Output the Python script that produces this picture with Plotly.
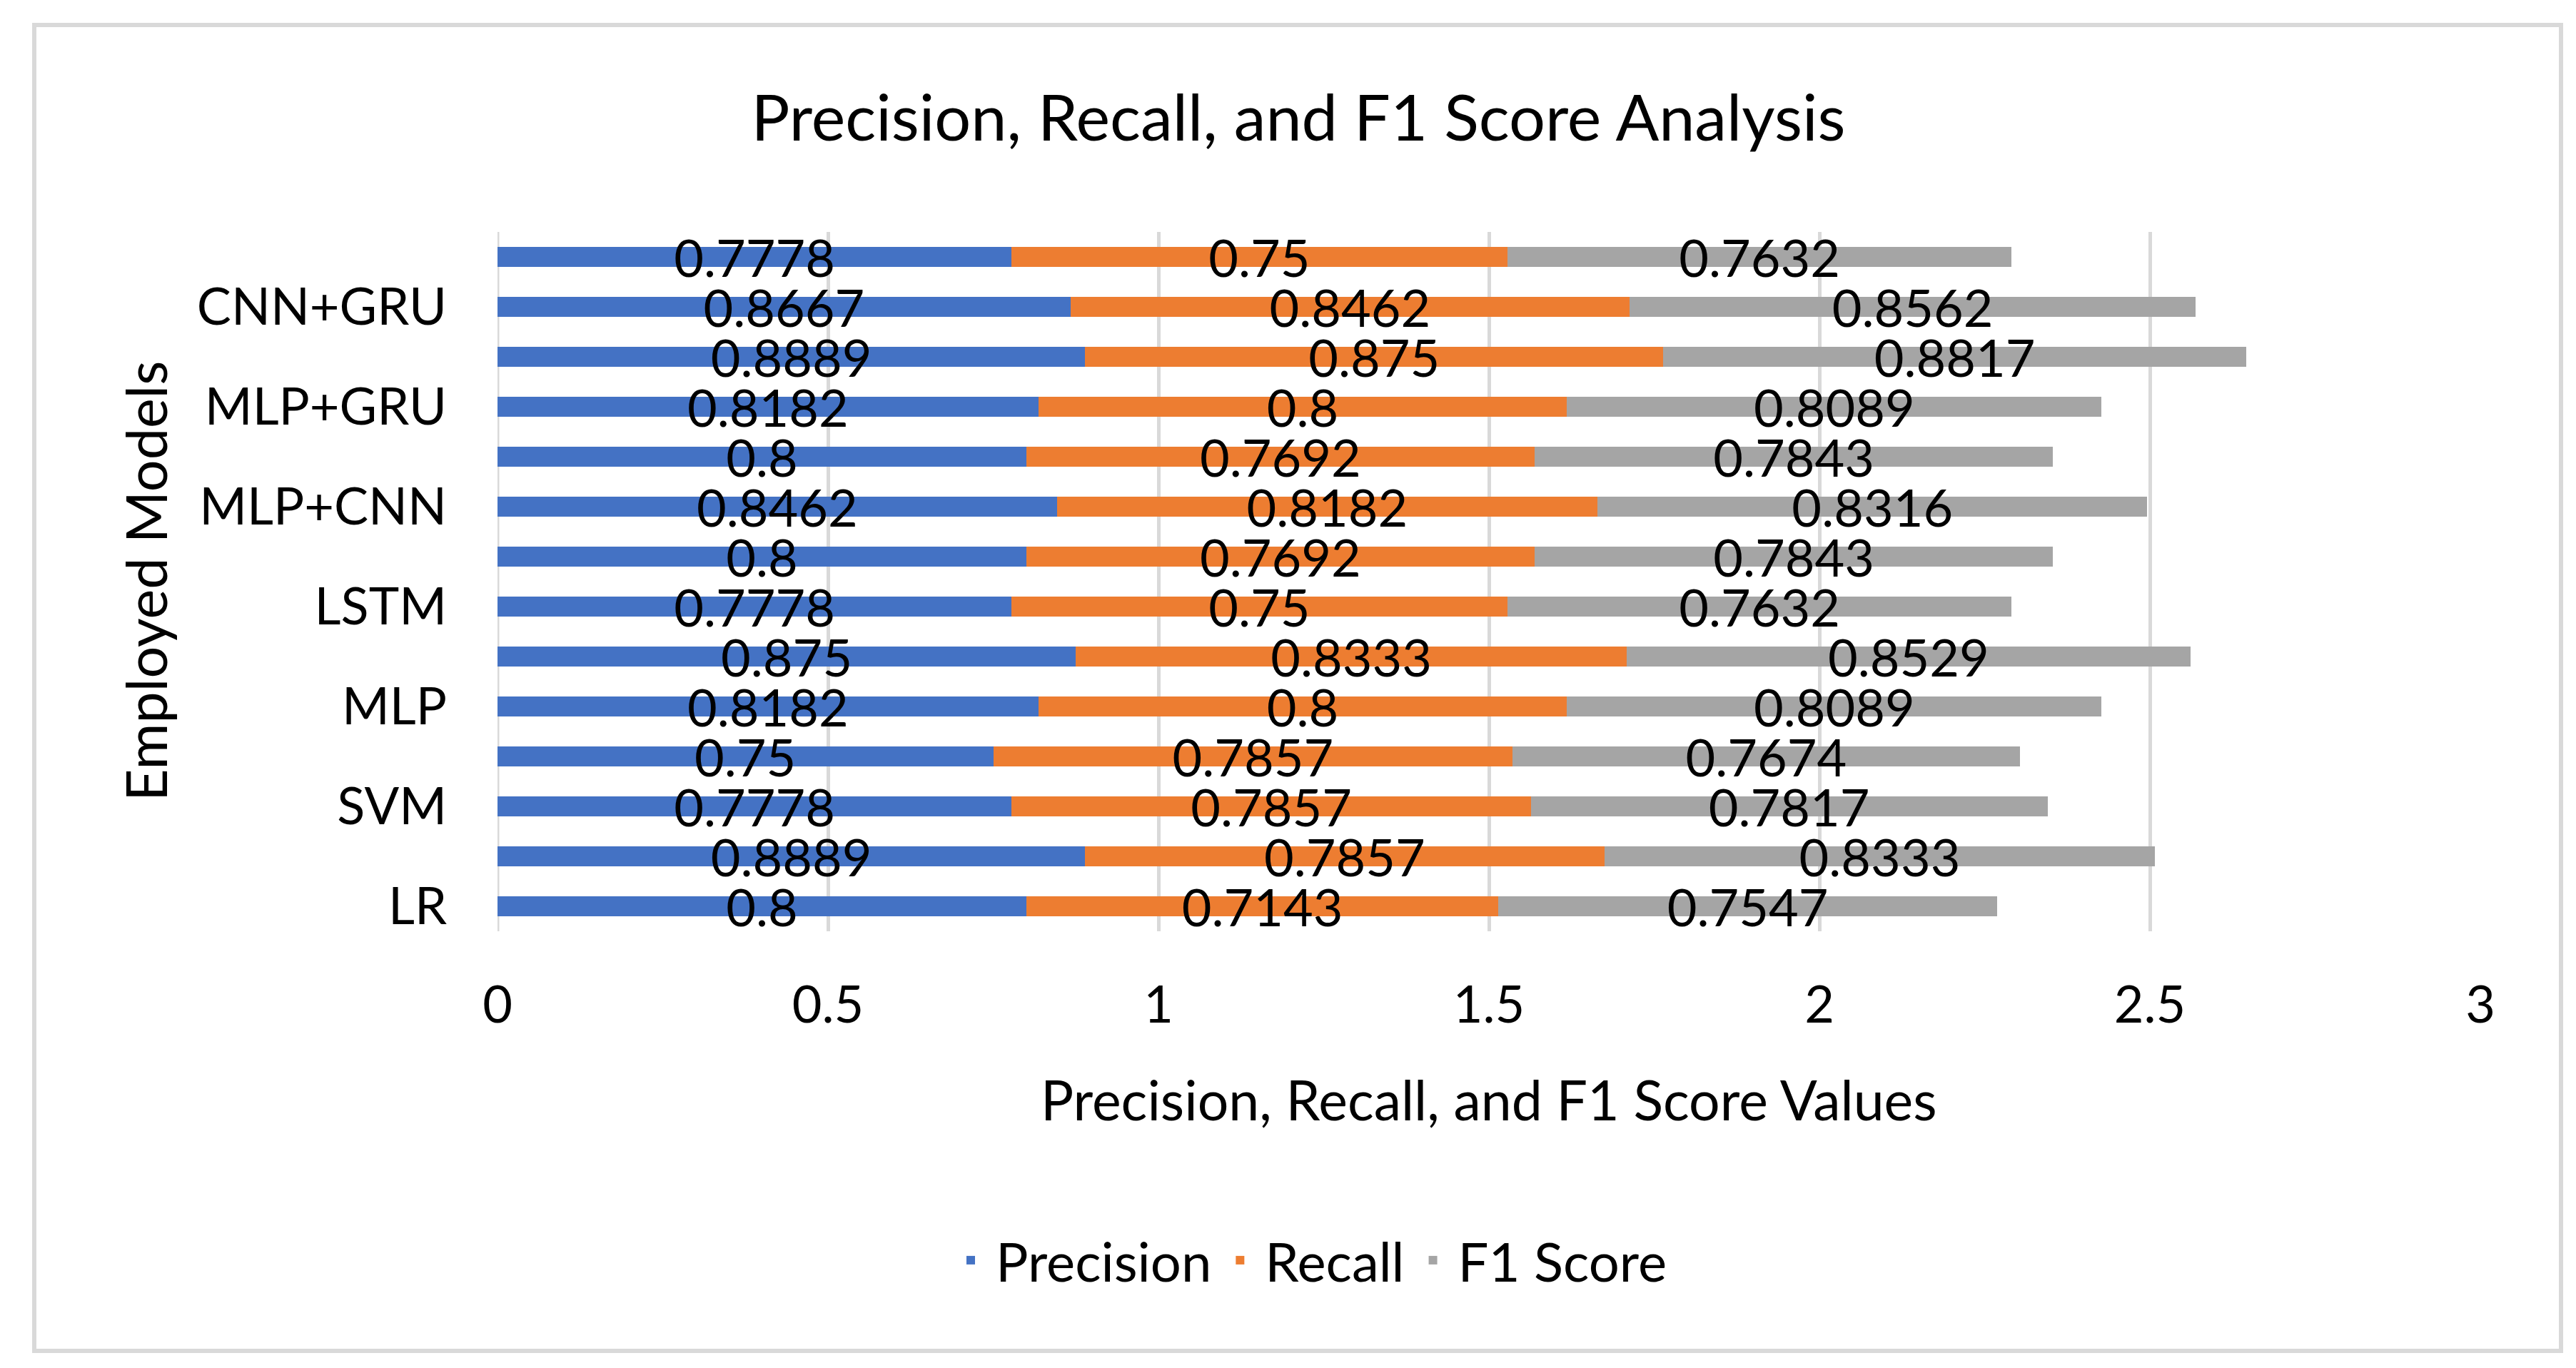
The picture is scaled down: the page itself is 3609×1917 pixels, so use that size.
import plotly.graph_objects as go

models = ["LR", "NB", "SVM", "DT", "MLP", "RF", "LSTM", "GRU",
          "MLP+CNN", "MLP+LSTM", "MLP+GRU", "CNN+LSTM", "CNN+GRU", "LSTM+GRU"]
shown_labels = ["LR", "SVM", "MLP", "LSTM", "MLP+CNN", "MLP+GRU", "CNN+GRU"]

precision = [0.8, 0.8889, 0.7778, 0.75, 0.8182, 0.875, 0.7778, 0.8,
             0.8462, 0.8, 0.8182, 0.8889, 0.8667, 0.7778]
recall = [0.7143, 0.7857, 0.7857, 0.7857, 0.8, 0.8333, 0.75, 0.7692,
          0.8182, 0.7692, 0.8, 0.875, 0.8462, 0.75]
f1 = [0.7547, 0.8333, 0.7817, 0.7674, 0.8089, 0.8529, 0.7632, 0.7843,
      0.8316, 0.7843, 0.8089, 0.8817, 0.8562, 0.7632]

x_ticks = [0, 0.5, 1, 1.5, 2, 2.5, 3]

FONT = "Lato"
FS = 72
W, H = 3609, 1917
L, R, T, B = 689, 142, 317, 620
PW = W - L - R
PH = H - T - B

def px_x(p):
    return (p - L) / PW

def px_y(p):
    return (H - B - p) / PH

fig = go.Figure()
series = [("Precision", precision, "#4472C4"),
          ("Recall", recall, "#ED7D31"),
          ("F1 Score", f1, "#A5A5A5")]
for name, vals, col in series:
    fig.add_trace(go.Bar(
        y=models, x=vals, name=name, orientation="h",
        marker=dict(color=col, line=dict(width=0)),
        text=[f"{v:g}" for v in vals],
        textposition="inside", insidetextanchor="middle",
        constraintext="none",
        textfont=dict(family=FONT, size=FS, color="black"),
        insidetextfont=dict(family=FONT, size=FS, color="black"),
        cliponaxis=False,
    ))

fig.update_layout(
    width=W, height=H,
    barmode="stack", bargap=0.6,
    paper_bgcolor="white", plot_bgcolor="white",
    margin=dict(l=L, r=R, t=T, b=B),
    font=dict(family=FONT, size=FS, color="black"),
    title=dict(text="Precision, Recall, and F1 Score Analysis",
               x=1811 / W, xref="container", xanchor="center",
               y=1 - 157 / H, yref="container", yanchor="middle",
               font=dict(family=FONT, size=90, color="black")),
    legend=dict(orientation="h", x=px_x(1825), xanchor="center",
                y=px_y(1758), yanchor="middle",
                font=dict(family=FONT, size=76, color="black"),
                traceorder="normal", itemwidth=60),
    xaxis=dict(range=[0, 3], tickvals=x_ticks, showgrid=True,
               gridcolor="#D9D9D9", gridwidth=5, zeroline=False,
               showline=False, ticks="", ticklabelstandoff=55,
               tickfont=dict(family=FONT, size=FS, color="black")),
    yaxis=dict(type="category", categoryorder="array", categoryarray=models,
               tickvals=shown_labels, ticktext=shown_labels,
               showgrid=False, showline=False, ticks="",
               ticklabelstandoff=70,
               tickfont=dict(family=FONT, size=FS, color="black")),
    annotations=[
        dict(text="Employed Models", xref="paper", yref="paper",
             x=px_x(195), y=0.5, textangle=-90, showarrow=False,
             xanchor="center", yanchor="middle",
             font=dict(family=FONT, size=79, color="black")),
        dict(text="Precision, Recall, and F1 Score Values", xref="paper",
             yref="paper", x=0.5, y=px_y(1532), showarrow=False,
             xanchor="center", yanchor="middle",
             font=dict(family=FONT, size=77, color="black")),
    ],
    shapes=[dict(type="rect", xref="paper", yref="paper",
                 x0=px_x(40), x1=px_x(3580), y0=px_y(1885), y1=px_y(27),
                 line=dict(color="#D9D9D9", width=6), layer="below")],
)
# vertical gridline at 0
fig.add_vline(x=0, line=dict(color="#D9D9D9", width=5), layer="below")

fig.write_html("out.html")
